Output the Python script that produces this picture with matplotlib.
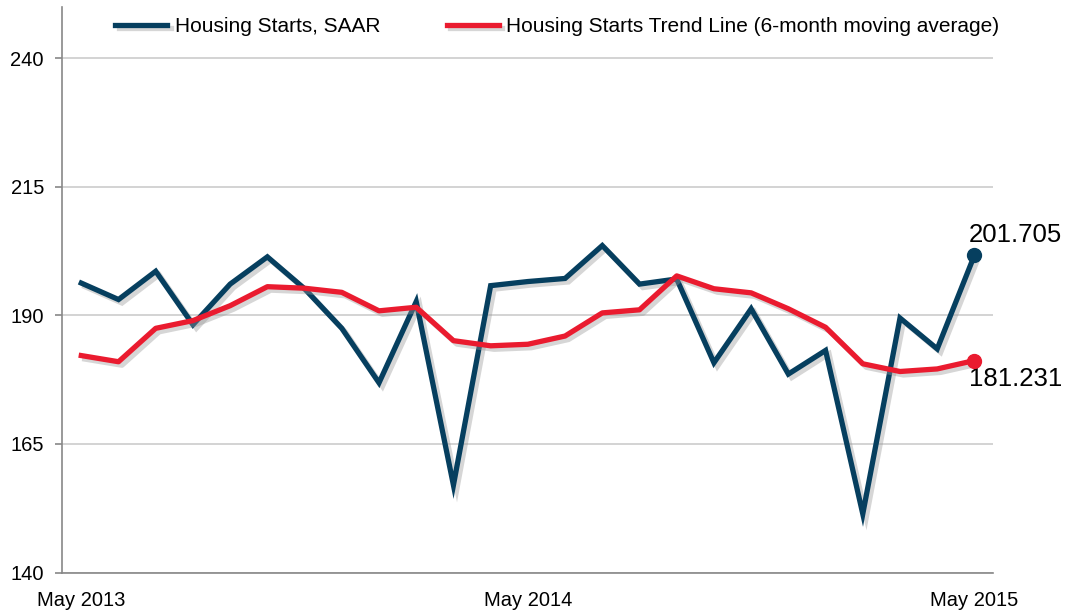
import matplotlib
matplotlib.use('Agg')
import matplotlib.pyplot as plt
import matplotlib.patheffects as pe

plt.rcParams['font.family'] = ['Liberation Sans', 'DejaVu Sans']

color_saar, color_trend = '#063f5f', '#ea1b2f'

months = ['May 2013', 'Jun 2013', 'Jul 2013', 'Aug 2013', 'Sep 2013', 'Oct 2013',
          'Nov 2013', 'Dec 2013', 'Jan 2014', 'Feb 2014', 'Mar 2014', 'Apr 2014',
          'May 2014', 'Jun 2014', 'Jul 2014', 'Aug 2014', 'Sep 2014', 'Oct 2014',
          'Nov 2014', 'Dec 2014', 'Jan 2015', 'Feb 2015', 'Mar 2015', 'Apr 2015',
          'May 2015']

starts_saar = [196.3, 193.1, 198.6, 188.2, 196.1, 201.4, 195.2, 187.5, 176.9,
               192.7, 157.0, 195.8, 196.6, 197.2, 203.6, 196.1, 197.1, 180.8,
               191.3, 178.6, 183.2, 151.4, 189.5, 183.5, 201.705]

starts_trend = [182.2, 181.0, 187.5, 189.0, 191.9, 195.6, 195.3, 194.5, 190.9,
                191.6, 185.1, 184.1, 184.4, 186.0, 190.5, 191.1, 197.7, 195.2,
                194.4, 191.3, 187.7, 180.6, 179.1, 179.6, 181.231]

y_ticks = [140, 165, 190, 215, 240]
x_tick_labels = ['May 2013', 'May 2014', 'May 2015']

fig = plt.figure(figsize=(10.68, 6.16), dpi=100)
ax = fig.add_axes([0.058, 0.0706, 0.8718, 0.918])

x = list(range(len(months)))
shadow = [pe.SimpleLineShadow(offset=(2.5, -2.5), shadow_color='0.6', alpha=0.4), pe.Normal()]

ax.plot(x, starts_saar, color=color_saar, linewidth=3.8, solid_joinstyle='miter',
        label='Housing Starts, SAAR', path_effects=shadow, zorder=3)
ax.plot(x, starts_trend, color=color_trend, linewidth=3.8, solid_joinstyle='round',
        label='Housing Starts Trend Line (6-month moving average)', path_effects=shadow, zorder=4)

# end-point markers and labels
ax.plot(x[-1], starts_saar[-1], 'o', color=color_saar, markersize=10, zorder=5)
ax.plot(x[-1], starts_trend[-1], 'o', color=color_trend, markersize=10, zorder=5)
ax.annotate(f'{starts_saar[-1]:.3f}', (x[-1], starts_saar[-1]), xytext=(-4, 6),
            textcoords='offset points', fontsize=18.5, ha='left', va='bottom')
ax.annotate(f'{starts_trend[-1]:.3f}', (x[-1], starts_trend[-1]), xytext=(-4, -5),
            textcoords='offset points', fontsize=18.5, ha='left', va='top')

ax.set_xlim(-0.52, 24.5)
ax.set_ylim(140, 250)
ax.set_yticks(y_ticks)
ax.set_xticks([months.index(m) for m in x_tick_labels])
ax.set_xticklabels(x_tick_labels)

ax.grid(axis='y', color='#cccccc', linewidth=1.2)
ax.set_axisbelow(True)

for side in ('top', 'right'):
    ax.spines[side].set_visible(False)
for side in ('left', 'bottom'):
    ax.spines[side].set_color('#888888')
    ax.spines[side].set_linewidth(1.2)

ax.tick_params(axis='y', length=5, width=1.2, color='#888888', pad=8, labelsize=14.5)
ax.tick_params(axis='x', length=0, pad=13, labelsize=14.5)

ax.legend(loc='center', bbox_to_anchor=(0.532, 0.965), ncol=2, frameon=False,
          fontsize=15, handlelength=2.5, handletextpad=0.35, columnspacing=3.2)

fig.savefig('out.png', dpi=100)
